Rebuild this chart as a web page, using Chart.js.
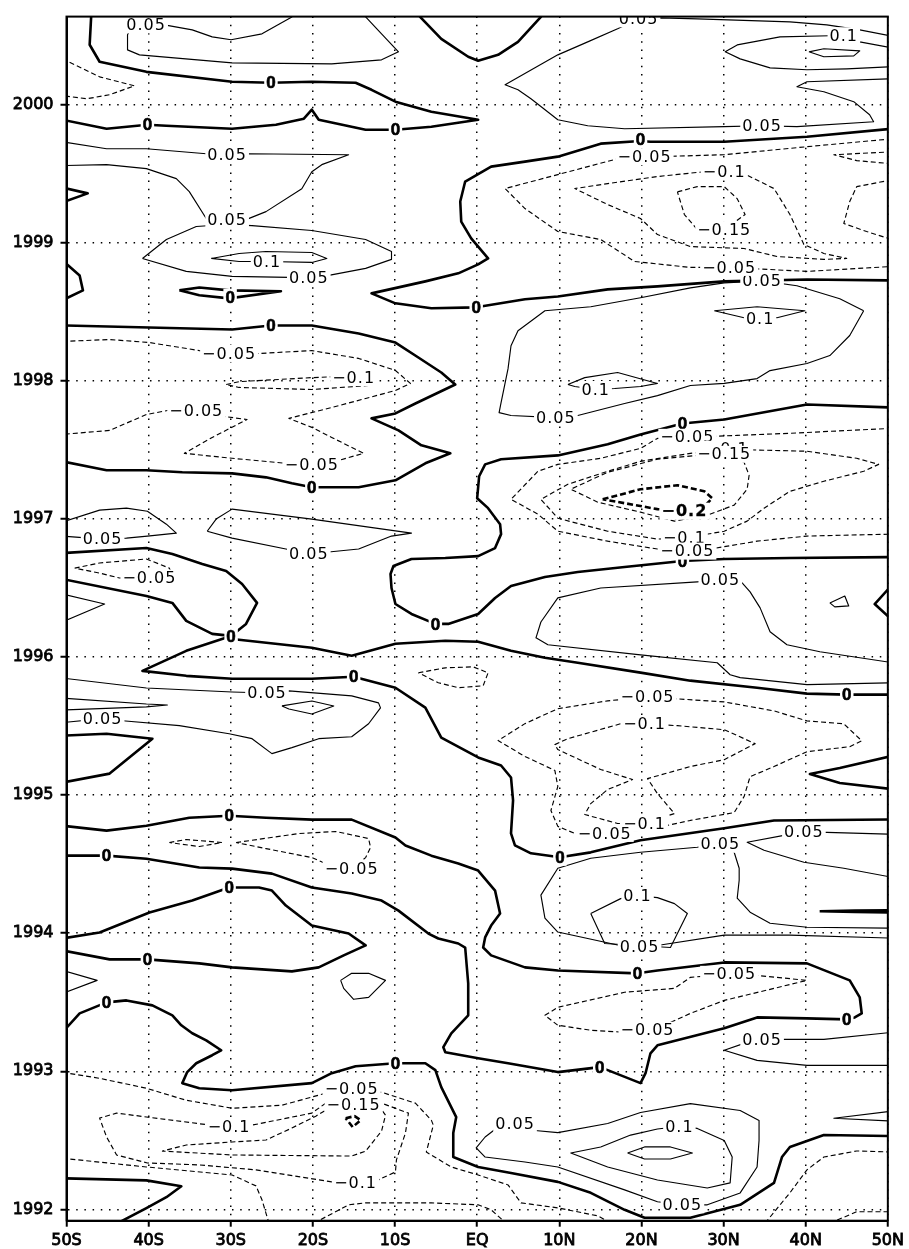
<!DOCTYPE html>
<html><head><meta charset="utf-8">
<script src="https://cdn.jsdelivr.net/npm/chart.js@4.4.1/dist/chart.umd.min.js"></script>
<style>html,body{margin:0;padding:0;background:#fff}#wrap{width:909px;height:1249px}</style>
</head><body><div id="wrap"><canvas id="c" width="909" height="1249"></canvas></div>
<script>
// ---- axes ----
const latTicks = [-50,-40,-30,-20,-10,0,10,20,30,40,50];
const latTickLabels = ['50S','40S','30S','20S','10S','EQ','10N','20N','30N','40N','50N'];
const yearTicks = [1992,1993,1994,1995,1996,1997,1998,1999,2000];
const latRange = [-50, 50];
const yearRange = [1991.918, 2000.636];

// ---- contour level 0 (open lines / closed loops), points are [latitude, year] ----
const zeroLines = [
 [[-46.9,2000.66],[-47.0,2000.634],[-47.18,2000.432],[-45.97,2000.309],[-40.27,2000.236],[-29.84,2000.164],[-25.11,2000.157],[-20.13,2000.164],[-14.8,2000.157],[-12.86,2000.106],[-9.95,2000.02],[-5.58,1999.947],[0.12,1999.889],[-5.58,1999.839],[-9.95,1999.817],[-13.58,1999.817],[-19.29,1999.889],[-20.13,1999.962],[-21.1,1999.897],[-24.5,1999.853],[-29.84,1999.824],[-37.84,1999.846],[-40.15,1999.853],[-45.12,1999.824],[-50.5,1999.889]],
 [[-7.0,2000.66],[-6.95,2000.634],[-4.37,2000.475],[-1.09,2000.345],[0.12,2000.316],[2.55,2000.359],[4.97,2000.453],[7.76,2000.634],[8.0,2000.66]],
 [[50.5,1999.824],[40.15,1999.766],[30.08,1999.73],[21.1,1999.73],[19.89,1999.735],[15.04,1999.716],[9.82,1999.622],[5.82,1999.586],[1.7,1999.55],[-1.46,1999.442],[-2.06,1999.297],[-1.94,1999.152],[-0.73,1999.03],[1.33,1998.885],[0.12,1998.842],[-2.3,1998.777],[-6.31,1998.719],[-12.86,1998.632],[-9.95,1998.56],[-5.58,1998.524],[-0.12,1998.531],[5.82,1998.589],[9.82,1998.61],[15.89,1998.661],[21.95,1998.683],[30.08,1998.719],[40.15,1998.733],[50.5,1998.726]],
 [[-50.5,1999.399],[-47.42,1999.356],[-50.5,1999.291]],
 [[-50.5,1998.871],[-48.4,1998.762],[-48.0,1998.654],[-50.5,1998.582]],
 [[-50.5,1998.4],[-29.84,1998.37],[-25.11,1998.4],[-20.13,1998.4],[-14.43,1998.341],[-9.95,1998.276],[-7.16,1998.168],[-4.37,1998.059],[-2.67,1997.972],[-7.52,1997.835],[-9.95,1997.763],[-12.86,1997.727],[-9.58,1997.64],[-6.79,1997.532],[-3.27,1997.474],[-6.31,1997.402],[-9.95,1997.279],[-14.43,1997.228],[-20.13,1997.228],[-22.56,1997.257],[-25.71,1997.3],[-29.84,1997.329],[-35.9,1997.337],[-40.27,1997.351],[-45.12,1997.351],[-50.5,1997.416]],
 [[-50.5,1996.752],[-40.27,1996.788],[-37.11,1996.745],[-33.47,1996.673],[-30.56,1996.622],[-28.62,1996.528],[-26.8,1996.391],[-28.14,1996.239],[-29.96,1996.152],[-29.84,1996.13],[-20.13,1996.066],[-15.28,1996.008],[-9.95,1996.095],[-3.88,1996.117],[0.12,1996.11],[4.12,1996.044],[8.25,1995.994],[12.25,1995.958],[19.89,1995.886],[25.96,1995.828],[34.08,1995.777],[40.15,1995.734],[45.0,1995.727],[50.5,1995.727]],
 [[-50.5,1996.564],[-40.27,1996.441],[-37.11,1996.391],[-35.42,1996.261],[-32.26,1996.167],[-29.96,1996.152],[-35.42,1996.044],[-40.75,1995.899],[-35.42,1995.863],[-29.84,1995.842],[-20.13,1995.842],[-15.04,1995.856],[-9.95,1995.777],[-6.31,1995.633],[-4.37,1995.416],[0.12,1995.272],[2.91,1995.214],[4.12,1995.127],[4.37,1994.961],[4.12,1994.722],[4.6,1994.636],[6.55,1994.578],[10.07,1994.549],[13.83,1994.585],[19.89,1994.672],[30.08,1994.759],[36.14,1994.816],[50.5,1994.823]],
 [[50.5,1997.806],[40.15,1997.828],[30.08,1997.719],[24.99,1997.69],[19.89,1997.611],[15.89,1997.539],[9.82,1997.459],[2.91,1997.431],[0.97,1997.394],[0.24,1997.308],[0.0,1997.149],[1.33,1997.077],[2.79,1996.961],[2.91,1996.889],[2.18,1996.788],[0.12,1996.73],[-3.88,1996.716],[-8.0,1996.709],[-10.19,1996.658],[-10.55,1996.6],[-10.43,1996.499],[-9.95,1996.383],[-8.0,1996.311],[-5.09,1996.239],[-3.52,1996.239],[0.12,1996.311],[2.18,1996.427],[4.12,1996.514],[8.25,1996.579],[12.25,1996.615],[17.95,1996.651],[24.99,1996.694],[30.08,1996.709],[38.08,1996.716],[50.5,1996.723]],
 [[50.5,1996.52],[48.4,1996.383],[50.5,1996.268]],
 [[-50.5,1995.43],[-45.12,1995.444],[-39.54,1995.408],[-44.75,1995.155],[-50.5,1995.09]],
 [[50.5,1995.283],[44.15,1995.196],[40.51,1995.152],[44.15,1995.087],[50.5,1995.043]],
 [[-50.5,1994.778],[-45.12,1994.742],[-40.27,1994.778],[-35.05,1994.836],[-30.2,1994.85],[-25.71,1994.836],[-20.13,1994.822],[-15.28,1994.822],[-9.95,1994.692],[-8.73,1994.634],[-5.58,1994.561],[-2.3,1994.504],[0.12,1994.453],[2.18,1994.308],[2.79,1994.142],[1.7,1994.055],[0.97,1993.969],[0.73,1993.896],[1.7,1993.839],[5.82,1993.752],[9.82,1993.73],[19.53,1993.709],[21.95,1993.73],[30.08,1993.788],[40.15,1993.781],[45.36,1993.658],[46.58,1993.535],[46.82,1993.419],[45.97,1993.39],[45.0,1993.376],[40.15,1993.383],[34.08,1993.39],[30.08,1993.311],[21.95,1993.188],[21.1,1993.13],[20.5,1992.986],[19.89,1992.914],[15.89,1993.008],[14.92,1993.03],[9.82,1992.994],[3.76,1993.058],[0.12,1993.094],[-3.88,1993.138],[-4.12,1993.174],[-3.15,1993.275],[-1.09,1993.405],[-1.09,1993.636],[-1.46,1993.896],[-2.3,1993.925],[-4.73,1993.961],[-5.94,1993.997],[-9.58,1994.163],[-11.64,1994.236],[-15.28,1994.287],[-20.13,1994.33],[-24.99,1994.431],[-29.84,1994.467],[-33.83,1994.475],[-40.27,1994.539],[-45.12,1994.561],[-50.5,1994.561]],
 [[-50.5,1993.962],[-45.97,1994.005],[-39.9,1994.149],[-34.69,1994.236],[-32.26,1994.287],[-30.2,1994.33],[-26.56,1994.33],[-24.99,1994.308],[-23.29,1994.2],[-20.13,1994.055],[-15.65,1993.997],[-13.58,1993.911],[-16.25,1993.839],[-19.29,1993.752],[-22.56,1993.723],[-29.84,1993.752],[-33.83,1993.781],[-40.15,1993.81],[-44.75,1993.81],[-50.5,1993.875]],
 [[-50.5,1993.282],[-48.4,1993.419],[-45.12,1993.499],[-42.7,1993.513],[-39.54,1993.477],[-37.11,1993.405],[-36.02,1993.333],[-34.69,1993.275],[-32.99,1993.224],[-31.17,1993.152],[-32.26,1993.116],[-34.2,1993.058],[-35.3,1992.994],[-35.9,1992.914],[-33.83,1992.877],[-29.84,1992.863],[-20.13,1992.914],[-17.71,1992.986],[-14.8,1993.036],[-9.95,1993.058],[-6.31,1993.058],[-5.09,1993.008],[-4.37,1992.885],[-2.55,1992.668],[-2.91,1992.553],[-2.91,1992.379],[0.12,1992.307],[4.12,1992.264],[9.82,1992.199],[13.83,1992.12],[17.95,1991.997],[20.38,1991.939],[25.96,1991.939],[32.02,1992.033],[36.14,1992.192],[37.11,1992.379],[38.08,1992.452],[42.21,1992.538],[50.5,1992.531]],
 [[-50.5,1992.225],[-40.27,1992.21],[-36.02,1992.167],[-37.84,1992.088],[-40.27,1992.009],[-43.78,1991.9]]
];
const zeroLoops = [
 [[-36.26,1998.654],[-33.83,1998.675],[-30.2,1998.654],[-23.89,1998.647],[-30.2,1998.596],[-33.83,1998.618]],
 [[41.7,1994.158],[46,1994.163],[50.5,1994.166],[50.5,1994.15],[46,1994.153]]
];

// ---- positive contours (0.05, 0.1, 0.15) ----
const positiveLines = [
 [[-13.7,2000.66],[-13.58,2000.634],[-11.64,2000.511],[-9.58,2000.381],[-11.64,2000.323],[-17.71,2000.294],[-29.84,2000.301],[-41.12,2000.359],[-42.57,2000.395],[-42.57,2000.504],[-41.97,2000.576],[-38.08,2000.576],[-34.69,2000.54],[-32.26,2000.489],[-29.96,2000.468],[-26.2,2000.511],[-22.56,2000.634],[-22.3,2000.66]],
 [[50.5,2000.495],[46.58,2000.54],[42.57,2000.576],[38.08,2000.598],[26.8,2000.62],[22.32,2000.627],[19.65,2000.62],[17.1,2000.548],[13.46,2000.453],[9.82,2000.359],[3.4,2000.142],[4.97,2000.106],[6.55,2000.041],[9.82,1999.889],[13.46,1999.846],[17.95,1999.824],[30.08,1999.839],[34.69,1999.846],[38.93,1999.839],[48.27,1999.875],[47.78,1999.925],[45.85,2000.02],[42.21,2000.092],[38.93,2000.128],[40.15,2000.164],[50.5,2000.186]],
 [[50.5,2000.41],[46.58,2000.453],[44.64,2000.497],[42.94,2000.497],[36.87,2000.489],[31.66,2000.431],[30.2,2000.381],[32.02,2000.33],[35.66,2000.265],[40.15,2000.251],[45.0,2000.258],[50.5,2000.273]],
 [[-50.5,1999.73],[-45.12,1999.679],[-40.27,1999.679],[-32.99,1999.643],[-30.44,1999.636],[-27.78,1999.643],[-15.65,1999.636],[-18.92,1999.564],[-20.13,1999.513],[-21.35,1999.39],[-25.71,1999.224],[-28.14,1999.166],[-30.44,1999.166],[-32.99,1999.174],[-35.05,1999.369],[-36.63,1999.463],[-40.27,1999.535],[-45.12,1999.564],[-50.5,1999.557]],
 [[-50.5,1996.976],[-45.97,1997.063],[-42.7,1997.077],[-40.15,1997.055],[-37.84,1996.961],[-36.63,1996.896],[-40.15,1996.875],[-42.7,1996.86],[-45.6,1996.853],[-50.5,1996.875]],
 [[-50.5,1996.455],[-45.36,1996.383],[-50.5,1996.253]],
 [[50.5,1995.959],[41.73,1996.037],[37.72,1996.088],[35.66,1996.182],[34.45,1996.355],[33.23,1996.471],[32.26,1996.536],[29.6,1996.557],[26.8,1996.543],[15.04,1996.499],[9.82,1996.427],[7.76,1996.253],[7.16,1996.138],[8.61,1996.088],[19.89,1996.015],[29.23,1995.958],[30.8,1995.871],[32.02,1995.85],[40.15,1995.799],[50.5,1995.813]],
 [[-50.5,1995.847],[-40.27,1995.775],[-29.84,1995.746],[-25.59,1995.739],[-22.92,1995.754],[-15.28,1995.718],[-12.01,1995.667],[-11.77,1995.631],[-13.22,1995.516],[-15.28,1995.422],[-19.29,1995.408],[-22.56,1995.343],[-24.99,1995.3],[-27.41,1995.408],[-30.2,1995.444],[-36.26,1995.502],[-43.17,1995.538],[-45.6,1995.553],[-50.5,1995.524]],
 [[-50.5,1995.702],[-40.27,1995.659],[-37.72,1995.652],[-40.27,1995.638],[-50.5,1995.616]],
 [[50.5,1994.716],[42.57,1994.73],[39.78,1994.73],[37.35,1994.708],[32.87,1994.658],[34.93,1994.6],[39.78,1994.513],[44.64,1994.47],[50.5,1994.405]],
 [[50.5,1994.036],[40.15,1994.043],[35.66,1994.072],[33.23,1994.152],[31.66,1994.253],[31.9,1994.383],[31.9,1994.47],[31.29,1994.586],[29.6,1994.643],[26.8,1994.622],[19.89,1994.586],[13.83,1994.542],[9.82,1994.47],[7.76,1994.275],[8.25,1994.109],[9.82,1994.008],[17.1,1993.914],[19.77,1993.899],[22.32,1993.914],[30.08,1993.986],[38.08,1993.986],[50.5,1993.964]],
 [[-50.5,1993.73],[-46.27,1993.658],[-50.5,1993.564]],
 [[50.5,1993.282],[42.21,1993.231],[34.69,1993.231],[32.5,1993.202],[30.08,1993.152],[34.08,1993.079],[40.15,1993.043],[50.5,1993.043]],
 [[50.5,1992.711],[43.42,1992.66],[50.5,1992.639]]
];
const positiveLoops = [
 [[40.39,2000.381],[42.21,2000.403],[46.58,2000.388],[45.85,2000.352],[42.21,2000.345]],
 [[-40.75,1998.885],[-37.84,1999.022],[-34.2,1999.116],[-30.56,1999.131],[-27.41,1999.123],[-20.13,1999.087],[-13.58,1999.022],[-10.43,1998.935],[-10.43,1998.878],[-13.58,1998.813],[-18.07,1998.762],[-20.5,1998.748],[-22.92,1998.748],[-29.84,1998.755],[-35.42,1998.791]],
 [[-32.38,1998.885],[-28.99,1998.921],[-25.71,1998.935],[-20.13,1998.928],[-18.31,1998.885],[-20.13,1998.856],[-25.59,1998.863],[-28.99,1998.863]],
 [[-32.87,1996.91],[-31.78,1996.998],[-29.84,1997.07],[-20.13,1996.998],[-8.0,1996.896],[-10.43,1996.875],[-14.43,1996.781],[-20.5,1996.745],[-23.29,1996.781],[-29.84,1996.86]],
 [[47.06,1998.506],[44.15,1998.593],[38.93,1998.687],[34.69,1998.723],[30.08,1998.708],[25.96,1998.672],[19.89,1998.6],[13.83,1998.535],[8.25,1998.506],[4.97,1998.361],[4.12,1998.253],[3.76,1998.087],[2.91,1997.841],[2.67,1997.769],[4.12,1997.748],[9.58,1997.733],[12.25,1997.748],[17.95,1997.835],[21.95,1997.892],[25.96,1997.965],[30.08,1997.98],[34.08,1998.015],[35.66,1998.073],[40.15,1998.124],[42.94,1998.182],[45.36,1998.327]],
 [[28.87,1998.506],[34.08,1998.535],[39.9,1998.506],[36.5,1998.456],[34.45,1998.449],[32.5,1998.456]],
 [[11.04,1997.972],[13.1,1998.022],[17.1,1998.059],[21.95,1997.98],[19.89,1997.958],[16.74,1997.943],[14.43,1997.936],[11.89,1997.958]],
 [[42.94,1996.391],[44.76,1996.441],[45.24,1996.369],[43.54,1996.362]],
 [[-23.77,1995.645],[-20.13,1995.681],[-17.46,1995.645],[-20.13,1995.587],[-22.92,1995.623]],
 [[13.83,1994.142],[15.53,1993.925],[23.53,1993.896],[25.59,1994.142],[24.02,1994.214],[21.95,1994.257],[19.53,1994.272],[17.47,1994.25]],
 [[-16.62,1993.658],[-15.28,1993.709],[-13.22,1993.709],[-11.16,1993.658],[-13.22,1993.535],[-15.04,1993.521],[-16.25,1993.6]],
 [[4.61,1992.622],[7.04,1992.571],[9.82,1992.556],[15.89,1992.622],[19.89,1992.701],[25.96,1992.766],[32.02,1992.716],[34.32,1992.643],[34.32,1992.499],[34.08,1992.307],[32.02,1992.119],[28.02,1992.033],[24.99,1992.033],[21.95,1992.055],[17.95,1992.141],[9.82,1992.307],[5.82,1992.343],[0.97,1992.379],[-0.12,1992.445],[0.97,1992.524],[2.55,1992.596]],
 [[24.62,1992.6],[26.8,1992.586],[30.08,1992.499],[31.05,1992.379],[30.8,1992.192],[28.02,1992.155],[21.95,1992.213],[15.89,1992.307],[11.4,1992.408],[15.04,1992.452],[18.68,1992.538],[21.95,1992.582]],
 [[18.31,1992.408],[20.38,1992.452],[23.53,1992.452],[26.2,1992.408],[23.53,1992.365],[20.38,1992.365]]
];

// ---- negative contours (-0.05, -0.1, -0.15) ----
const negativeLines = [
 [[-50.5,2000.33],[-45.97,2000.2],[-41.72,2000.135],[-44.75,2000.07],[-47.54,2000.041],[-50.5,2000.063]],
 [[-50.5,1998.284],[-44.75,1998.298],[-39.9,1998.276],[-33.83,1998.218],[-30.2,1998.197],[-26.56,1998.197],[-20.13,1998.218],[-14.43,1998.161],[-9.95,1998.074],[-8.13,1997.98],[-9.95,1997.929],[-13.58,1997.871],[-17.71,1997.806],[-22.92,1997.727],[-20.13,1997.662],[-17.71,1997.589],[-13.83,1997.474],[-16.86,1997.423],[-20.13,1997.394],[-23.29,1997.402],[-29.84,1997.438],[-35.66,1997.474],[-32.26,1997.589],[-28.02,1997.719],[-31.78,1997.748],[-34.2,1997.784],[-37.11,1997.791],[-40.27,1997.755],[-44.75,1997.64],[-50.5,1997.611]],
 [[50.5,1997.655],[38.08,1997.619],[31.66,1997.604],[25.59,1997.59],[21.95,1997.582],[19.89,1997.51],[15.04,1997.438],[9.82,1997.394],[7.4,1997.344],[4.12,1997.141],[7.4,1997.033],[9.82,1996.91],[15.89,1996.838],[21.95,1996.781],[25.59,1996.766],[28.38,1996.781],[34.08,1996.838],[40.15,1996.875],[50.5,1996.889]],
 [[50.5,1999.751],[40.15,1999.694],[30.08,1999.636],[22.2,1999.622],[20.38,1999.622],[17.1,1999.607],[9.82,1999.492],[3.4,1999.391],[5.82,1999.246],[9.82,1999.08],[15.04,1999.022],[19.16,1998.863],[25.96,1998.82],[30.68,1998.82],[40.15,1998.791],[50.5,1998.827]],
 [[50.5,1999.657],[43.42,1999.636],[46.21,1999.593],[50.5,1999.571]],
 [[50.5,1999.454],[46.21,1999.405],[45.36,1999.297],[44.64,1999.138],[47.42,1999.08],[50.5,1999.022]],
 [[-50.5,1992.992],[-45.97,1992.949],[-40.27,1992.877],[-35.42,1992.79],[-29.84,1992.732],[-23.77,1992.754],[-18.43,1992.841],[-15.28,1992.87],[-11.64,1992.848],[-7.52,1992.769],[-5.58,1992.646],[-5.34,1992.61],[-6.19,1992.415],[-3.15,1992.307],[0.12,1992.249],[3.76,1992.177],[5.34,1992.047],[9.82,1992.011],[14.68,1991.953],[16.5,1991.895]],
 [[-50.5,1992.37],[-40.27,1992.307],[-29.84,1992.249],[-26.93,1992.17],[-26.2,1992.069],[-25.35,1991.9]],
 [[-19.89,1991.9],[-15.65,1992.033],[-13.58,1992.047],[-5.58,1992.047],[0.12,1992.033],[1.7,1991.997],[3.52,1991.9]],
 [[35.05,1991.9],[38.08,1992.12],[40.15,1992.286],[42.21,1992.379],[46.21,1992.423],[50.5,1992.415]],
 [[42.94,1991.9],[46.21,1991.983],[50.5,1991.983]]
];
const negativeLoops = [
 [[-30.56,1997.972],[-28.99,1997.993],[-20.13,1998.022],[-16.86,1998.03],[-13.22,1997.965],[-20.13,1997.936],[-28.99,1997.951]],
 [[-49.0,1996.643],[-45.97,1996.68],[-40.27,1996.709],[-37.48,1996.643],[-37.23,1996.607],[-39.9,1996.571],[-43.54,1996.571],[-45.97,1996.607]],
 [[30.44,1997.503],[35.3,1997.496],[40.15,1997.489],[46.21,1997.438],[48.88,1997.394],[47.06,1997.344],[42.21,1997.272],[38.08,1997.199],[34.93,1997.077],[32.87,1996.983],[30.08,1996.91],[25.23,1996.86],[21.95,1996.853],[15.89,1996.91],[9.82,1997.004],[7.76,1997.141],[11.04,1997.25],[15.89,1997.344],[19.89,1997.416],[25.96,1997.474]],
 [[30.08,1997.467],[26.8,1997.459],[21.95,1997.431],[15.89,1997.337],[11.4,1997.214],[14.68,1997.12],[19.89,1997.048],[24.02,1996.983],[28.02,1997.026],[31.29,1997.099],[32.87,1997.214],[33.11,1997.315],[32.5,1997.409]],
 [[30.08,1999.513],[32.5,1999.499],[36.14,1999.391],[38.08,1999.203],[39.78,1998.986],[42.21,1998.921],[45.0,1998.885],[42.21,1998.878],[36.5,1998.899],[32.5,1998.957],[25.96,1998.971],[21.95,1999.058],[19.89,1999.174],[15.89,1999.275],[11.89,1999.391],[15.89,1999.427],[21.95,1999.478],[27.65,1999.513]],
 [[24.38,1999.367],[26.8,1999.405],[30.08,1999.405],[31.66,1999.318],[32.62,1999.203],[30.08,1999.094],[26.8,1999.094],[25.23,1999.203]],
 [[-7.16,1995.885],[-3.88,1995.921],[-0.49,1995.928],[1.33,1995.885],[0.73,1995.791],[-2.3,1995.777],[-4.73,1995.813]],
 [[20.74,1995.71],[24.38,1995.696],[30.08,1995.674],[36.14,1995.609],[40.15,1995.537],[44.64,1995.516],[46.82,1995.393],[45.36,1995.35],[40.15,1995.314],[36.14,1995.206],[33.23,1995.133],[32.5,1994.989],[31.29,1994.873],[25.96,1994.816],[20.38,1994.744],[15.53,1994.722],[11.89,1994.722],[9.82,1994.773],[8.98,1994.888],[9.82,1995.062],[9.46,1995.178],[5.82,1995.279],[2.55,1995.394],[5.82,1995.517],[9.82,1995.625],[15.89,1995.682]],
 [[20.38,1995.516],[24.38,1995.502],[30.08,1995.473],[33.84,1995.372],[30.08,1995.256],[25.96,1995.206],[20.74,1995.119],[21.95,1995.01],[24.02,1994.866],[20.38,1994.794],[17.1,1994.794],[13.1,1994.859],[13.83,1994.938],[15.89,1995.04],[18.92,1995.112],[15.04,1995.185],[9.82,1995.329],[9.46,1995.365],[11.04,1995.408],[17.47,1995.516]],
 [[-37.48,1994.656],[-35.42,1994.678],[-31.05,1994.656],[-33.83,1994.627]],
 [[-29.35,1994.656],[-21.71,1994.721],[-17.22,1994.736],[-13.22,1994.685],[-12.98,1994.62],[-13.58,1994.547],[-15.28,1994.468],[-18.43,1994.504],[-20.13,1994.547],[-25.71,1994.612]],
 [[30.68,1993.702],[34.08,1993.694],[40.15,1993.658],[36.14,1993.6],[30.08,1993.513],[25.96,1993.419],[22.8,1993.333],[20.74,1993.297],[17.95,1993.282],[13.83,1993.297],[9.82,1993.333],[8.25,1993.405],[9.82,1993.463],[17.95,1993.572],[24.02,1993.6],[25.96,1993.68]],
 [[-30.2,1992.594],[-27.41,1992.61],[-20.13,1992.697],[-18.43,1992.769],[-15.04,1992.79],[-11.64,1992.769],[-8.37,1992.697],[-8.73,1992.553],[-9.83,1992.358],[-9.95,1992.271],[-12.01,1992.214],[-14.8,1992.192],[-17.71,1992.199],[-26.93,1992.286],[-33.83,1992.322],[-40.15,1992.336],[-43.9,1992.394],[-45.12,1992.524],[-45.97,1992.661],[-43.9,1992.697],[-40.27,1992.669],[-32.62,1992.611]],
 [[-15.04,1992.754],[-12.01,1992.754],[-11.16,1992.682],[-11.64,1992.567],[-13.58,1992.422],[-15.28,1992.386],[-29.84,1992.394],[-38.32,1992.422],[-35.42,1992.466],[-29.84,1992.488],[-25.71,1992.502],[-22.56,1992.589],[-19.65,1992.675],[-18.07,1992.732]]
];
// ---- -0.2 contours ----
const strongNegativeLoops = [
 [[15.28,1997.141],[19.89,1997.214],[24.38,1997.243],[27.65,1997.199],[28.62,1997.149],[27.65,1997.091],[25.23,1997.055],[21.95,1997.07],[17.95,1997.113]],
 [[-16.01,1992.66],[-14.92,1992.675],[-14.19,1992.646],[-15.16,1992.596]]
];

// ---- contour labels [latitude, year, text] ----
const zeroLabels = [[-25.11,2000.157],[-40.15,1999.853],[-9.95,1999.817],[19.89,1999.745],[-30.08,1998.603],[-0.12,1998.531],[-25.11,1998.4],[-20.13,1997.228],[24.99,1997.69],[24.99,1996.694],[-5.09,1996.239],[-29.96,1996.152],[-15.04,1995.856],[45.0,1995.727],[-30.2,1994.85],[-45.12,1994.561],[10.07,1994.549],[-30.2,1994.33],[-40.15,1993.81],[19.53,1993.709],[45.0,1993.376],[-45.12,1993.499],[-9.95,1993.058],[14.92,1993.03]];
const positiveLabels = [[-40.3,2000.576,'0.05'],[19.65,2000.62,'0.05'],[44.64,2000.497,'0.1'],[34.69,1999.846,'0.05'],[-30.44,1999.636,'0.05'],[-30.44,1999.166,'0.05'],[-25.59,1998.863,'0.1'],[-20.5,1998.748,'0.05'],[34.69,1998.723,'0.05'],[34.45,1998.449,'0.1'],[14.43,1997.936,'0.1'],[9.58,1997.733,'0.05'],[-45.6,1996.853,'0.05'],[-20.5,1996.745,'0.05'],[29.6,1996.557,'0.05'],[-25.59,1995.739,'0.05'],[-45.6,1995.553,'0.05'],[39.78,1994.73,'0.05'],[29.6,1994.643,'0.05'],[19.53,1994.272,'0.1'],[19.77,1993.899,'0.05'],[34.69,1993.231,'0.05'],[4.61,1992.622,'0.05'],[24.62,1992.6,'0.1'],[24.99,1992.033,'0.05']];
const negativeLabels = [[-30.2,1998.197,'−0.05'],[-15.04,1998.022,'−0.1'],[-34.2,1997.784,'−0.05'],[-20.13,1997.394,'−0.05'],[-39.9,1996.571,'−0.05'],[20.38,1999.622,'−0.05'],[30.08,1999.513,'−0.1'],[30.08,1999.094,'−0.15'],[30.68,1998.82,'−0.05'],[25.59,1997.59,'−0.05'],[30.44,1997.503,'−0.1'],[30.08,1997.467,'−0.15'],[25.23,1996.86,'−0.1'],[25.59,1996.766,'−0.05'],[20.74,1995.71,'−0.05'],[20.38,1995.516,'−0.1'],[20.38,1994.794,'−0.1'],[15.53,1994.722,'−0.05'],[-15.28,1994.468,'−0.05'],[30.68,1993.702,'−0.05'],[20.74,1993.297,'−0.05'],[-15.28,1992.87,'−0.05'],[-15.04,1992.754,'−0.15'],[-30.2,1992.594,'−0.1'],[-14.8,1992.192,'−0.1']];
const strongNegativeLabels = [[25.23,1997.055,'−0.2']];

// ---- build datasets ----
function toDatasets(lines, closed, width, dash) {
  return lines.map(pts => ({
    data: closed ? pts.concat([pts[0]]) : pts,
    showLine: true, pointRadius: 0, pointHoverRadius: 0, fill: false, tension: 0,
    borderColor: '#000', borderWidth: width, borderDash: dash, clip: 0,
    borderJoinStyle: 'round', borderCapStyle: 'butt'
  }));
}
const datasets = [].concat(
  toDatasets(positiveLines, false, 1.15, []),
  toDatasets(positiveLoops, true, 1.15, []),
  toDatasets(negativeLines, false, 1.15, [5, 3]),
  toDatasets(negativeLoops, true, 1.15, [5, 3]),
  toDatasets(strongNegativeLoops, true, 2.6, [6, 3]),
  toDatasets(zeroLines, false, 2.6, []),
  toDatasets(zeroLoops, true, 2.6, [])
);

const labelSets = [
  {items: zeroLabels.map(p => [p[0], p[1], '0']), font: 'bold 17px "Liberation Sans"', stroke: 0.6, spacing: '0px'},
  {items: positiveLabels, font: '16px "DejaVu Sans"', stroke: 0, spacing: '1px'},
  {items: negativeLabels, font: '16px "DejaVu Sans"', stroke: 0, spacing: '1px'},
  {items: strongNegativeLabels, font: 'bold 16px "DejaVu Sans"', stroke: 0.3, spacing: '1px'}
];

const contourLabelPlugin = {
  id: 'contourLabels',
  afterDatasetsDraw(chart) {
    const {ctx, chartArea: a, scales: {x, y}} = chart;
    ctx.save();
    ctx.beginPath(); ctx.rect(a.left, a.top, a.right - a.left, a.bottom - a.top); ctx.clip();
    ctx.textAlign = 'center'; ctx.textBaseline = 'middle';
    for (const set of labelSets) {
      ctx.font = set.font;
      if ('letterSpacing' in ctx) ctx.letterSpacing = set.spacing;
      for (const [lat, yr, txt] of set.items) {
        const px = x.getPixelForValue(lat), py = y.getPixelForValue(yr);
        const w = ctx.measureText(txt).width, h = 13;
        ctx.fillStyle = '#fff';
        ctx.fillRect(px - w / 2 - 2, py - h / 2 - 2, w + 4, h + 4);
        ctx.fillStyle = '#000';
        ctx.fillText(txt, px, py + 1);
        if (set.stroke) { ctx.lineWidth = set.stroke; ctx.strokeStyle = '#000'; ctx.strokeText(txt, px, py + 1); }
      }
    }
    ctx.restore();
  }
};
const framePlugin = {
  id: 'frame',
  afterDraw(chart) {
    const {ctx, chartArea: a} = chart;
    ctx.save(); ctx.strokeStyle = '#000'; ctx.lineWidth = 2;
    ctx.strokeRect(a.left, a.top, a.right - a.left, a.bottom - a.top);
    ctx.restore();
  }
};

const tickFont = {family: 'DejaVu Sans', size: 16};
new Chart(document.getElementById('c'), {
  type: 'scatter',
  data: {datasets},
  options: {
    responsive: false, animation: false, events: [],
    layout: {padding: {top: 15, right: 18, left: 0, bottom: 0}},
    plugins: {legend: {display: false}, tooltip: {enabled: false}},
    scales: {
      x: {
        type: 'linear', min: latRange[0], max: latRange[1],
        afterBuildTicks: s => { s.ticks = latTicks.map(v => ({value: v})); },
        afterFit: s => { s.height = 28.3; },
        ticks: {autoSkip: false, maxRotation: 0, color: '#000', font: tickFont, padding: 5,
                textStrokeColor: '#000', textStrokeWidth: 0.8,
                callback: v => latTickLabels[latTicks.indexOf(v)]},
        grid: {color: '#000', lineWidth: 1.5, tickLength: 6, tickWidth: 2, tickColor: '#000', borderDash: [1.5, 6.7]},
        border: {display: true, color: '#000', width: 2, dash: [1.5, 6.7]}
      },
      y: {
        type: 'linear', min: yearRange[0], max: yearRange[1],
        afterBuildTicks: s => { s.ticks = yearTicks.map(v => ({value: v})); },
        afterFit: s => { s.width = 66.5; },
        ticks: {autoSkip: false, color: '#000', font: tickFont, padding: 7,
                textStrokeColor: '#000', textStrokeWidth: 0.8,
                callback: v => String(v)},
        grid: {color: '#000', lineWidth: 1.5, tickLength: 6, tickWidth: 2, tickColor: '#000', borderDash: [1.5, 6.7]},
        border: {display: true, color: '#000', width: 2, dash: [1.5, 6.7]}
      }
    }
  },
  plugins: [contourLabelPlugin, framePlugin]
});
</script>
</body></html>
